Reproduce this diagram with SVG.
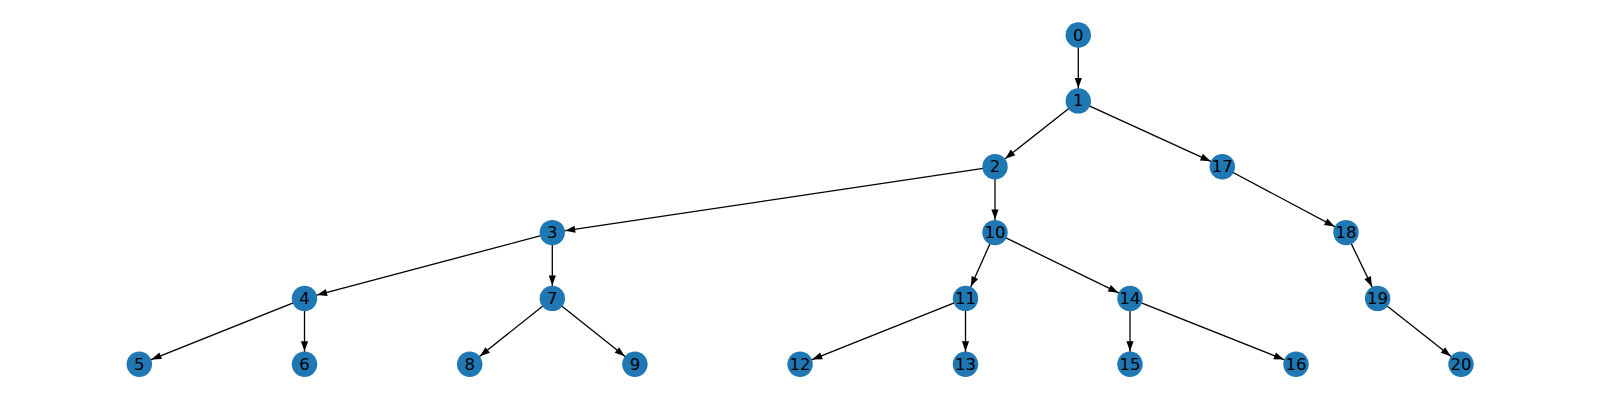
<svg xmlns="http://www.w3.org/2000/svg" width="1600" height="400" viewBox="0 0 1600 400">
<style>
.e{stroke:#000;stroke-width:1.3;fill:none;marker-end:url(#ah)}
.n circle{fill:#1f77b4}
.n text{font-family:"DejaVu Sans",sans-serif;font-size:16.5px;fill:#000;text-anchor:middle;dominant-baseline:central}
</style>
<defs>
<marker id="ah" viewBox="-12 -5 30 10" refX="13" refY="0" markerWidth="30" markerHeight="10" markerUnits="userSpaceOnUse" orient="auto">
<path d="M-10,-3.6 L0,0 L-10,3.6 z" fill="#000"/>
</marker>
</defs>
<rect width="1600" height="400" fill="#fff"/>
<g id="edges">
<line class="e" x1="1078.3" y1="35" x2="1078.3" y2="100.9"/>
<line class="e" x1="1078.3" y1="100.9" x2="995" y2="166.7"/>
<line class="e" x1="1078.3" y1="100.9" x2="1222.3" y2="166.7"/>
<line class="e" x1="995" y1="166.7" x2="552.3" y2="232.6"/>
<line class="e" x1="995" y1="166.7" x2="995" y2="232.6"/>
<line class="e" x1="552.3" y1="232.6" x2="304.5" y2="298.4"/>
<line class="e" x1="552.3" y1="232.6" x2="552.3" y2="298.4"/>
<line class="e" x1="304.5" y1="298.4" x2="139.3" y2="364.3"/>
<line class="e" x1="304.5" y1="298.4" x2="304.5" y2="364.3"/>
<line class="e" x1="552.3" y1="298.4" x2="469.7" y2="364.3"/>
<line class="e" x1="552.3" y1="298.4" x2="634.9" y2="364.3"/>
<line class="e" x1="995" y1="232.6" x2="965.5" y2="298.4"/>
<line class="e" x1="995" y1="232.6" x2="1130" y2="298.4"/>
<line class="e" x1="965.5" y1="298.4" x2="800.1" y2="364.3"/>
<line class="e" x1="965.5" y1="298.4" x2="965.5" y2="364.3"/>
<line class="e" x1="1130" y1="298.4" x2="1130" y2="364.3"/>
<line class="e" x1="1130" y1="298.4" x2="1296" y2="364.3"/>
<line class="e" x1="1222.3" y1="166.7" x2="1346" y2="232.6"/>
<line class="e" x1="1346" y1="232.6" x2="1377.6" y2="298.4"/>
<line class="e" x1="1377.6" y1="298.4" x2="1461" y2="364.3"/>
</g>
<g id="n0" class="n"><circle cx="1078.3" cy="35" r="12.7"/><text x="1078.3" y="35">0</text></g>
<g id="n1" class="n"><circle cx="1078.3" cy="100.9" r="12.7"/><text x="1078.3" y="100.9">1</text></g>
<g id="n2" class="n"><circle cx="995" cy="166.7" r="12.7"/><text x="995" y="166.7">2</text></g>
<g id="n17" class="n"><circle cx="1222.3" cy="166.7" r="12.7"/><text x="1222.3" y="166.7">17</text></g>
<g id="n3" class="n"><circle cx="552.3" cy="232.6" r="12.7"/><text x="552.3" y="232.6">3</text></g>
<g id="n10" class="n"><circle cx="995" cy="232.6" r="12.7"/><text x="995" y="232.6">10</text></g>
<g id="n18" class="n"><circle cx="1346" cy="232.6" r="12.7"/><text x="1346" y="232.6">18</text></g>
<g id="n4" class="n"><circle cx="304.5" cy="298.4" r="12.7"/><text x="304.5" y="298.4">4</text></g>
<g id="n7" class="n"><circle cx="552.3" cy="298.4" r="12.7"/><text x="552.3" y="298.4">7</text></g>
<g id="n11" class="n"><circle cx="965.5" cy="298.4" r="12.7"/><text x="965.5" y="298.4">11</text></g>
<g id="n14" class="n"><circle cx="1130" cy="298.4" r="12.7"/><text x="1130" y="298.4">14</text></g>
<g id="n19" class="n"><circle cx="1377.6" cy="298.4" r="12.7"/><text x="1377.6" y="298.4">19</text></g>
<g id="n5" class="n"><circle cx="139.3" cy="364.3" r="12.7"/><text x="139.3" y="364.3">5</text></g>
<g id="n6" class="n"><circle cx="304.5" cy="364.3" r="12.7"/><text x="304.5" y="364.3">6</text></g>
<g id="n8" class="n"><circle cx="469.7" cy="364.3" r="12.7"/><text x="469.7" y="364.3">8</text></g>
<g id="n9" class="n"><circle cx="634.9" cy="364.3" r="12.7"/><text x="634.9" y="364.3">9</text></g>
<g id="n12" class="n"><circle cx="800.1" cy="364.3" r="12.7"/><text x="800.1" y="364.3">12</text></g>
<g id="n13" class="n"><circle cx="965.5" cy="364.3" r="12.7"/><text x="965.5" y="364.3">13</text></g>
<g id="n15" class="n"><circle cx="1130" cy="364.3" r="12.7"/><text x="1130" y="364.3">15</text></g>
<g id="n16" class="n"><circle cx="1296" cy="364.3" r="12.7"/><text x="1296" y="364.3">16</text></g>
<g id="n20" class="n"><circle cx="1461" cy="364.3" r="12.7"/><text x="1461" y="364.3">20</text></g>
</svg>
